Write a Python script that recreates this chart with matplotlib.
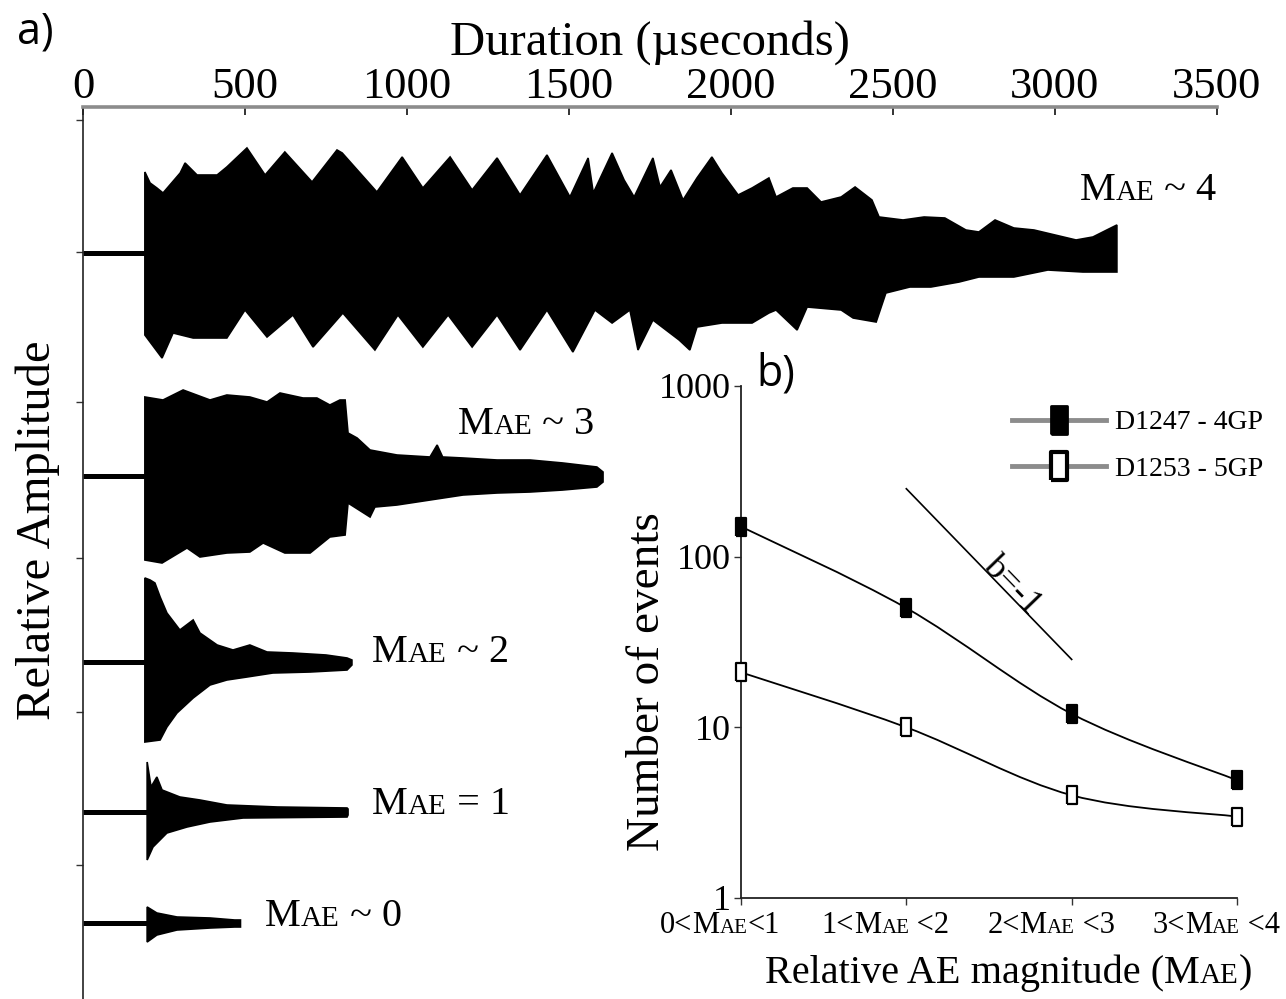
import numpy as np
import matplotlib
matplotlib.use("Agg")
import matplotlib.pyplot as plt
from matplotlib.path import Path
from matplotlib.patches import PathPatch
from matplotlib.lines import Line2D
from matplotlib.offsetbox import TextArea, HPacker, AnnotationBbox
import matplotlib.transforms as mtransforms

SERIF = "Liberation Serif"
SANS = "Open Sans"

# ---------------- panel a : AE waveforms (envelopes) -------------
duration_ticks = [0, 500, 1000, 1500, 2000, 2500, 3000, 3500]

# offsets of each trace on the relative-amplitude axis
trace_offsets = [746, 523, 337, 187, 76]
trace_onsets = [191, 191, 191, 198, 198]          # microseconds
trace_suffix = [" ~ 4", " ~ 3", " ~ 2", " = 1", " ~ 0"]
label_t = [3077, 1157, 892, 892, 562]
label_y = [808, 575, 347, 194, 82]

m4_up_t = [191, 207, 228, 247, 300, 315, 352, 414, 444, 506, 562, 623, 707, 784, 800, 907, 985,
           1049, 1133, 1201, 1278, 1349, 1432, 1503, 1559, 1575, 1633, 1670, 1701, 1759, 1781,
           1815, 1852, 1895, 1941, 1972, 2022, 2065, 2117, 2139, 2191, 2235, 2278, 2340, 2383,
           2435, 2457, 2531, 2596, 2660, 2725, 2765, 2815, 2873, 2935, 3000, 3065, 3117, 3160, 3191]
m4_up_a = [81, 70, 65, 60, 80, 90, 78, 78, 86, 105, 78, 101, 71, 103, 100, 61, 96, 65, 96, 63,
           95, 58, 98, 56, 95, 60, 100, 73, 56, 95, 66, 83, 53, 75, 96, 80, 58, 65, 75, 56,
           65, 65, 51, 56, 66, 53, 36, 33, 36, 35, 23, 21, 33, 25, 23, 18, 13, 16, 23, 28]
m4_lo_t = [191, 244, 278, 340, 444, 500, 568, 648, 710, 802, 901, 972, 1049, 1127, 1201, 1278,
           1349, 1432, 1512, 1580, 1633, 1688, 1713, 1759, 1840, 1873, 1895, 1972, 2065, 2117,
           2139, 2204, 2235, 2340, 2377, 2448, 2478, 2552, 2617, 2704, 2765, 2873, 2978, 3086, 3191]
m4_lo_a = [82, 105, 80, 85, 85, 57, 84, 62, 94, 60, 97, 62, 94, 62, 94, 62, 97, 57, 99, 57,
           70, 57, 97, 67, 87, 97, 74, 70, 70, 60, 57, 77, 54, 57, 65, 69, 40, 34, 34, 29,
           24, 24, 17, 19, 19]

m3_up_t = [191, 247, 309, 392, 444, 515, 568, 608, 679, 722, 762, 793, 809, 818, 846, 886, 969,
           1071, 1093, 1110, 1173, 1278, 1380, 1481, 1586, 1605]
m3_up_a = [79, 76, 86, 76, 81, 79, 74, 83, 78, 78, 71, 76, 76, 43, 38, 26, 21, 19, 31, 19,
           18, 16, 16, 13, 9, 4]
m3_lo_t = [191, 244, 321, 361, 444, 515, 556, 623, 701, 762, 809, 818, 886, 901, 969, 1071,
           1173, 1278, 1380, 1481, 1586, 1605]
m3_lo_a = [84, 87, 72, 81, 77, 76, 67, 77, 77, 61, 59, 27, 41, 31, 29, 24, 19, 17, 16, 14, 11, 6]

m2_up_t = [191, 207, 222, 238, 259, 299, 340, 361, 414, 463, 515, 568, 648, 750, 815, 830]
m2_up_a = [84, 82, 79, 65, 49, 32, 42, 29, 17, 12, 17, 10, 9, 7, 4, 2]
m2_lo_t = [191, 238, 259, 290, 340, 392, 444, 506, 586, 701, 815, 830]
m2_lo_a = [80, 78, 65, 51, 36, 23, 18, 15, 11, 10, 8, 3]

m1_up_t = [198, 210, 228, 244, 299, 361, 444, 600, 815, 818]
m1_up_a = [50, 25, 35, 22, 15, 12, 7, 5, 4, 3]
m1_lo_t = [198, 216, 259, 321, 392, 494, 815, 818]
m1_lo_a = [48, 35, 21, 15, 10, 6, 5, 3]

m0_up_t = [198, 228, 290, 392, 468, 486]
m0_up_a = [16, 10, 6, 5, 3, 3]
m0_lo_t = [198, 228, 290, 392, 468, 486]
m0_lo_a = [19, 12, 7, 5, 4, 4]

amp_tick_positions = [879, 747, 597, 441, 287, 134]

# ---------------- panel b : frequency-magnitude ----------------
mag_bins = ["0<", "1<", "2<", "3<"]
mag_bins_end = ["<1", " <2", " <3", " <4"]
series_names = ["D1247 - 4GP", "D1253 - 5GP"]
d1247_counts = [150, 50, 12, 4.9]
d1253_counts = [21, 10, 4.0, 3.0]
bline_x = [1, 2]
bline_y = [250, 25]

W, H = 1286, 999
fig = plt.figure(figsize=(W / 100, H / 100), dpi=100)
fig.patch.set_facecolor("white")


def px_box(l, r, t, b):
    return [l / W, 1 - b / H, (r - l) / W, (b - t) / H]


# ---------------- panel a ----------------
ax = fig.add_axes(px_box(83, 1217, 107, 999))
ax.set_xlim(0, 3500)
ax.set_ylim(0, 892)
for s in ["right", "bottom"]:
    ax.spines[s].set_visible(False)
ax.spines["top"].set_color("#8c8c8c")
ax.spines["top"].set_linewidth(2.6)
ax.spines["left"].set_color("#222222")
ax.spines["left"].set_linewidth(1.2)
ax.xaxis.tick_top()
ax.set_xticks(duration_ticks)
ax.set_xticklabels([str(v) for v in duration_ticks], fontsize=32, family=SERIF)
ax.tick_params(axis="x", direction="in", length=6, width=1.4, color="#333333", pad=0)
ax.set_yticks(amp_tick_positions)
ax.set_yticklabels([])
ax.tick_params(axis="y", direction="out", length=5, width=1.0, color="#333333")
ax.xaxis.set_label_position("top")
ax.set_xlabel("Duration (µseconds)", fontsize=35, family=SERIF, labelpad=9)
ax.set_ylabel("Relative Amplitude", fontsize=35, family=SERIF)
ax.yaxis.label.set_va("center")
ax.yaxis.set_label_coords((38 - 83) / 1134, (999 - 530) / 892)

envelopes = [
    (m4_up_t, m4_up_a, m4_lo_t, m4_lo_a),
    (m3_up_t, m3_up_a, m3_lo_t, m3_lo_a),
    (m2_up_t, m2_up_a, m2_lo_t, m2_lo_a),
    (m1_up_t, m1_up_a, m1_lo_t, m1_lo_a),
    (m0_up_t, m0_up_a, m0_lo_t, m0_lo_a),
]


def sc_packer(prefix, suffix, size, small):
    kids = []
    if prefix:
        kids.append(TextArea(prefix, textprops=dict(fontsize=size, family=SERIF, color="black")))
    kids.append(TextArea("M", textprops=dict(fontsize=size, family=SERIF, color="black")))
    kids.append(TextArea("AE", textprops=dict(fontsize=small, family=SERIF, color="black")))
    if suffix:
        kids.append(TextArea(suffix, textprops=dict(fontsize=size, family=SERIF, color="black")))
    return HPacker(children=kids, align="baseline", pad=0, sep=0)


for (ut, ua, lt, la), base, onset, suf, lx, ly in zip(envelopes, trace_offsets, trace_onsets,
                                                       trace_suffix, label_t, label_y):
    ax.plot([0, onset], [base, base], color="black", lw=3.6, solid_capstyle="butt")
    ut = np.asarray(ut, float); ua = np.asarray(ua, float)
    lt = np.asarray(lt, float); la = np.asarray(la, float)
    xs = np.concatenate([ut, lt[::-1]])
    ys = np.concatenate([base + ua, (base - la)[::-1]])
    ax.fill(xs, ys, facecolor="black", edgecolor="black", lw=1.2)
    ab = AnnotationBbox(sc_packer("", suf, 29, 21), (lx, ly), xycoords="data",
                        frameon=False, box_alignment=(0, 0.5), pad=0, annotation_clip=False)
    ax.add_artist(ab)

fig.text(35 / W, 1 - 32 / H, "a)", fontsize=31, family=SANS, ha="center", va="center")

# ---------------- panel b ----------------
bx = fig.add_axes(px_box(741, 1237, 386, 898))
bx.patch.set_alpha(0)
bx.set_yscale("log")
bx.set_xlim(0, 3)
bx.set_ylim(1, 1000)
for s in ["right", "top"]:
    bx.spines[s].set_visible(False)
for s in ["left", "bottom"]:
    bx.spines[s].set_linewidth(1.3)
    bx.spines[s].set_color("#222222")
bx.set_yticks([1, 10, 100, 1000])
bx.set_yticklabels(["1", "10", "100", "1000"], fontsize=26, family=SERIF)
bx.yaxis.set_minor_locator(matplotlib.ticker.NullLocator())
bx.set_xticks(range(len(mag_bins)))
bx.set_xticklabels([""] * len(mag_bins))
bx.tick_params(axis="both", direction="out", length=5, width=1.0, color="#333333", pad=2)
bx.set_ylabel("Number of events", fontsize=34, family=SERIF)
bx.yaxis.label.set_va("center")
bx.yaxis.set_label_coords((648 - 741) / 496, (898 - 682) / 512)

for i, (pre, end) in enumerate(zip(mag_bins, mag_bins_end)):
    ab = AnnotationBbox(sc_packer(pre, end, 22, 15), (i, 0),
                        xycoords=bx.get_xaxis_transform(), xybox=(-15, -20),
                        boxcoords="offset points", frameon=False,
                        box_alignment=(0.5, 0.5), pad=0, annotation_clip=False)
    bx.add_artist(ab)

ab = AnnotationBbox(sc_packer("Relative AE magnitude (", ")", 29, 21), (0.5, 0),
                    xycoords="axes fraction", xybox=(14, -54),
                    boxcoords="offset points", frameon=False, box_alignment=(0.5, 0.5),
                    pad=0, annotation_clip=False)
bx.add_artist(ab)

to_axes = mtransforms.Affine2D().scale(1 / 3.0, 1 / 3.0) + bx.transAxes


def smooth_path(xs, ys):
    P = np.column_stack([np.asarray(xs, float), np.log10(np.asarray(ys, float))])
    n = len(P)
    verts = [P[0]]
    codes = [Path.MOVETO]
    for i in range(n - 1):
        p0 = P[i - 1] if i > 0 else P[i]
        p1, p2 = P[i], P[i + 1]
        p3 = P[i + 2] if i + 2 < n else P[i + 1]
        verts += [p1 + (p2 - p0) / 6.0, p2 - (p3 - p1) / 6.0, p2]
        codes += [Path.CURVE4] * 3
    return Path(verts, codes)


xi = np.arange(len(mag_bins))
rect = [(-0.55, -1), (0.55, -1), (0.55, 1), (-0.55, 1), (-0.55, -1)]
for counts, fc in [(d1247_counts, "black"), (d1253_counts, "white")]:
    bx.add_patch(PathPatch(smooth_path(xi, counts), transform=to_axes, facecolor="none",
                           edgecolor="black", lw=1.3))
    bx.plot(xi, counts, ls="none", marker=rect, ms=13, mfc=fc, mec="black", mew=1.6,
            clip_on=False, zorder=5)

bx.plot(bline_x, bline_y, color="black", lw=1.2)
bx.text(1.64, 68, "b=-1", fontsize=26, family=SERIF, rotation=-46,
        ha="center", va="center", rotation_mode="anchor")

fig.text(776 / W, 1 - 374 / H, "b)", fontsize=31, family=SANS, ha="center", va="center")

handles = [
    Line2D([], [], color="#8c8c8c", lw=3.5, marker=rect, ms=20, mfc="black", mec="black", mew=2),
    Line2D([], [], color="#8c8c8c", lw=3.5, marker=rect, ms=20, mfc="white", mec="black", mew=3),
]
leg = bx.legend(handles, series_names, loc="upper left",
                bbox_to_anchor=(1012 / W, 1 - 410 / H), bbox_transform=fig.transFigure,
                frameon=False, borderpad=0, borderaxespad=0, handlelength=3.4,
                handletextpad=0.3, labelspacing=0.75, prop=dict(family=SERIF, size=20))

fig.savefig("out.png", dpi=100, facecolor="white")
